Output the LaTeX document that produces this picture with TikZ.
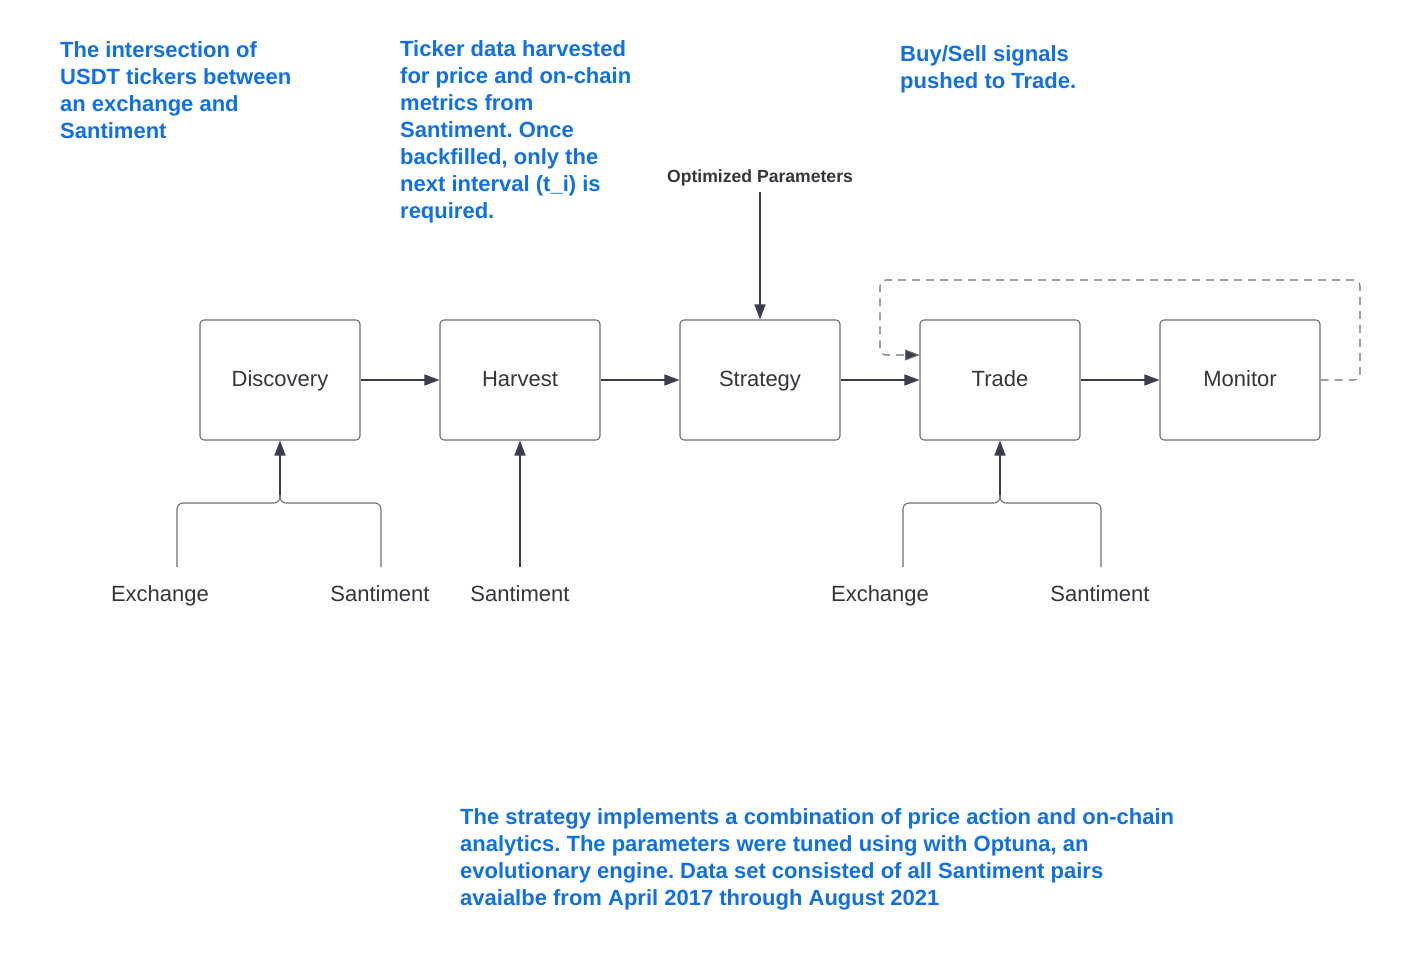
\documentclass[tikz,border=0pt]{standalone}
\usepackage{fontspec}
\setmainfont{Liberation Sans}
\usetikzlibrary{arrows.meta,calc}
\definecolor{noteblue}{RGB}{17,112,228}
\definecolor{boxline}{RGB}{110,112,118}
\definecolor{arrowdark}{RGB}{58,62,74}
\definecolor{txtdark}{RGB}{51,54,60}
\tikzset{
  stage/.style={draw=boxline, line width=1.1pt, rounded corners=4pt, minimum width=160pt, minimum height=120pt, inner sep=0pt, font=\fontsize{22}{26}\selectfont, text=txtdark, text height=16pt, text depth=4pt},
  flow/.style={draw=arrowdark, line width=1.2pt, -{Triangle[length=15pt,width=11pt]}},
  feed/.style={draw=boxline, line width=1.1pt, rounded corners=6pt},
  loopline/.style={draw=boxline, line width=1.1pt, dash pattern=on 8pt off 6pt, rounded corners=6pt, -{Triangle[length=15pt,width=11pt,fill=arrowdark]}},
  note/.style={text=noteblue, font=\bfseries\fontsize{22}{27}\selectfont, align=left, anchor=north west, inner sep=0pt},
  srclabel/.style={text=txtdark, font=\fontsize{22}{26}\selectfont, inner sep=0pt, text height=16pt, text depth=4pt},
}
\begin{document}
\frenchspacing
\begin{tikzpicture}[x=1pt,y=-1pt]
\useasboundingbox (0,0) rectangle (1401,960);
\fill[white] (0,0) rectangle (1401,960);

% stages
\node[stage] (disc) at (280,380) {Discovery};
\node[stage] (harv) at (520,380) {Harvest};
\node[stage] (strat) at (760,380) {Strategy};
\node[stage] (trade) at (1000,380) {Trade};
\node[stage] (mon) at (1240,380) {Monitor};

\draw[flow] (disc.east) -- (harv.west);
\draw[flow] (harv.east) -- (strat.west);
\draw[flow] (strat.east) -- (trade.west);
\draw[flow] (trade.east) -- (mon.west);

% optimized parameters
\node[text=txtdark, font=\bfseries\fontsize{17.6}{20}\selectfont, inner sep=0pt, text height=13pt, text depth=3.5pt] (opt) at (760,178) {Optimized Parameters};
\coordinate (optfoot) at (760,192);
\draw[flow] (optfoot) -- (strat.north);

% dashed feedback loop
\coordinate (loopTR) at (1360,280);
\coordinate (loopTL) at (880,280);
\coordinate (tradein) at (920,355);
\draw[loopline] (mon.east) -| (loopTR) -- (loopTL) |- (tradein);

% discovery sources
\coordinate (jD) at (280,503);
\coordinate (jDup) at (280,495);
\coordinate (exA) at (177,567);
\coordinate (saA) at (381,567);
\draw[feed] (exA) |- (jD) -- (jDup);
\draw[feed] (saA) |- (jD) -- (jDup);
\draw[flow] (jDup) -- (disc.south);
\node[srclabel] (exAl) at (160,595) {Exchange};
\node[srclabel] (saAl) at (380,595) {Santiment};

% harvest source
\coordinate (saB) at (520,567);
\draw[flow] (saB) -- (harv.south);
\node[srclabel] (saBl) at (520,595) {Santiment};

% trade sources
\coordinate (jT) at (1000,503);
\coordinate (jTup) at (1000,495);
\coordinate (exC) at (903,567);
\coordinate (saC) at (1101,567);
\draw[feed] (exC) |- (jT) -- (jTup);
\draw[feed] (saC) |- (jT) -- (jTup);
\draw[flow] (jTup) -- (trade.south);
\node[srclabel] (exCl) at (880,595) {Exchange};
\node[srclabel] (saCl) at (1100,595) {Santiment};

% notes
\node[note] (n1) at (60,41.5) {The intersection of\\USDT tickers between\\an exchange and\\Santiment};
\node[note] (n2) at (400,40.5) {Ticker data harvested\\for price and on-chain\\metrics from\\Santiment. Once\\backfilled, only the\\next interval (t\_i) is\\required.};
\node[note] (n3) at (900,45) {Buy/Sell signals\\pushed to Trade.};
\node[note] (n4) at (460,808) {The strategy implements a combination of price action and on-chain\\analytics. The parameters were tuned using with Optuna, an\\evolutionary engine. Data set consisted of all Santiment pairs\\avaialbe from April 2017 through August 2021};
\end{tikzpicture}
\end{document}
